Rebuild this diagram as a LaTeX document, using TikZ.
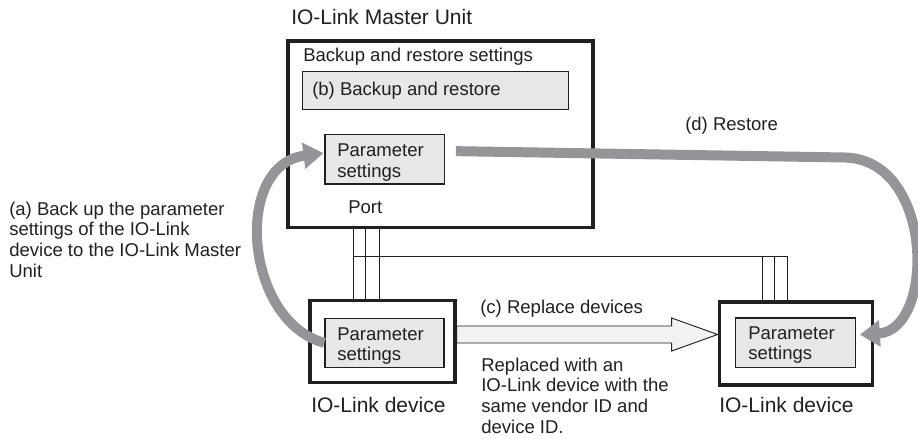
\documentclass[tikz,border=0pt]{standalone}
\usepackage{fontspec}
\setmainfont{Liberation Sans}
\usetikzlibrary{arrows.meta,fit,calc}
\definecolor{ink}{RGB}{35,31,32}
\definecolor{boxfill}{RGB}{230,231,232}
\definecolor{arrfill}{RGB}{241,242,242}
\definecolor{flow}{RGB}{147,149,152}
\newcommand\mlines[1]{\vtop{\baselineskip=15.6pt\lineskiplimit=0pt\lineskip=0pt\halign{##\hfil\cr#1\crcr}}}
\tikzset{
  outerbox/.style={draw=ink, line width=2.5pt, inner sep=0pt, rectangle},
  innerbox/.style={draw=ink, fill=boxfill, line width=0.9pt, inner sep=0pt, rectangle},
  txt/.style={anchor=base west, inner sep=0pt, text=ink, font=\fontsize{13.9}{15.6}\selectfont},
  bigtxt/.style={anchor=base west, inner sep=0pt, text=ink, font=\fontsize{15.75}{18}\selectfont},
  wire/.style={draw=ink, line width=0.7pt},
  flowarrow/.style={draw=flow, line width=7.5pt, -{Triangle[length=15pt,width=19pt]}},
  blockarrow/.style={draw=ink, fill=arrfill, line width=0.7pt, line join=miter}
}
\begin{document}
\begin{tikzpicture}[x=0.75pt,y=-0.75pt]
\useasboundingbox (0,0) rectangle (918,439);
% boxes
\node[outerbox, fit={(288,41)(593,227.5)}] (master) {};
\node[innerbox, fit={(302.7,71.3)(568.7,109.3)}] (bbox) {};
\node[innerbox, fit={(325,134.3)(444.3,184)}] (pm) {};
\node[outerbox, fit={(310,300.7)(455,382.3)}] (dev1) {};
\node[innerbox, fit={(325,318.3)(444,367.3)}] (p1) {};
\node[outerbox, fit={(719.3,302)(872.7,385)}] (dev2) {};
\node[innerbox, fit={(735.3,318)(855.3,367.3)}] (p2) {};
% texts
\node[bigtxt] (title) at (291,25) {IO-Link Master Unit};
\node[txt] (brs) at (303,61.7) {Backup and restore settings};
\node[txt] (btxt) at (312,95) {(b) Backup and restore};
\node[txt] (pmtxt) at (337,156.7) {\mlines{Parameter\cr settings}};
\node[txt] (port) at (348,213) {Port};
\node[txt] (p1txt) at (337,340) {\mlines{Parameter\cr settings}};
\node[txt] (p2txt) at (748,339) {\mlines{Parameter\cr settings}};
\node[bigtxt] (d1lbl) at (311,412) {IO-Link device};
\node[bigtxt] (d2lbl) at (719,412) {IO-Link device};
\node[txt] (ctxt) at (480,313) {(c) Replace devices};
\node[txt] (rtxt) at (481,371) {\mlines{Replaced with an\cr IO-Link device with the\cr same vendor ID and\cr device ID.}};
\node[txt] (dtxt) at (685,130) {(d) Restore};
\node[txt] (atxt) at (9,215) {\mlines{(a) Back up the parameter\cr settings of the IO-Link\cr device to the IO-Link Master\cr Unit}};
% wiring
\coordinate (xa) at (353.3,0);
\coordinate (xb) at (365.7,0);
\coordinate (xc) at (379,0);
\coordinate (xd) at (762.3,0);
\coordinate (xe) at (774.3,0);
\coordinate (xf) at (787.7,0);
\coordinate (hy) at (0,256);
\draw[wire] (xa |- master.south) -- (xa |- dev1.north);
\draw[wire] (xb |- master.south) -- (xb |- dev1.north);
\draw[wire] (xc |- master.south) -- (xc |- dev1.north);
\draw[wire] (xa |- hy) -- (xf |- hy);
\draw[wire] (xd |- hy) -- (xd |- dev2.north);
\draw[wire] (xe |- hy) -- (xe |- dev2.north);
\draw[wire] (xf |- hy) -- (xf |- dev2.north);
% block arrow (c)
\coordinate (cy) at (0,334.5);
\coordinate (cs) at (dev1.east |- cy);
\coordinate (ct) at (dev2.west |- cy);
\draw[blockarrow] ($(cs)+(0,-8.5)$) -- ($(ct)+(-46,-8.5)$) -- ($(ct)+(-46,-16.5)$) -- (ct)
  -- ($(ct)+(-46,16.5)$) -- ($(ct)+(-46,8.5)$) -- ($(cs)+(0,8.5)$) -- cycle;
% flow arrows
\draw[flowarrow] (p1.west) .. controls (245,322) and (232,165) .. ($(pm.west)+(-1,-6)$);
\draw[flowarrow] ($(pm.east)+(11,-8)$) -- (845,157.5) .. controls (935,160) and (935,330) .. ($(p2.east)+(4,-8)$);
\end{tikzpicture}
\end{document}
